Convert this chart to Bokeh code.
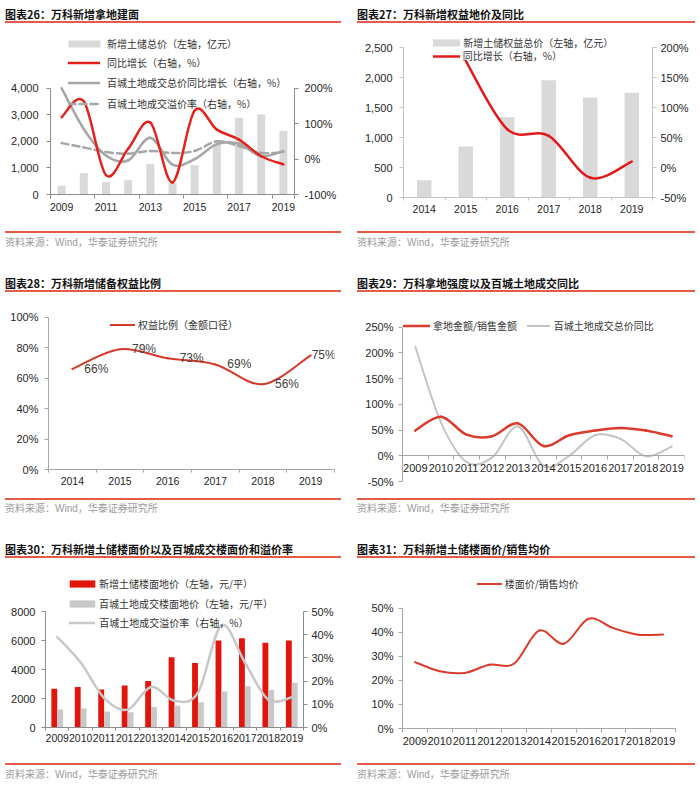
import numpy as np
from bokeh.plotting import figure
from bokeh.models import (Range1d, LinearAxis, FixedTicker, PrintfTickFormatter, NumeralTickFormatter,
                          Legend, LegendItem, ColumnDataSource, LabelSet, Div)
from bokeh.layouts import column, row
from bokeh.transform import dodge
from bokeh.embed import file_html
from bokeh.resources import INLINE
from bokeh.core.properties import value

# ---------------- data ----------------
years_26 = ["2009", "2010", "2011", "2012", "2013", "2014", "2015", "2016", "2017", "2018", "2019"]
land_total_26 = [330, 810, 475, 540, 1150, 440, 1100, 1900, 2890, 3010, 2390]
land_yoy_26 = [118, 163, -45, 29, 103, -66, 137, 83, 55, 8, -15]
city_total_yoy_26 = [200, 85, 10, -4, 60, -16, 0, 42, 43, 8, 23]
city_premium_26 = [45, 33, 20, 15, 23, 17, 23, 50, 37, 17, 20]

years_27 = ["2014", "2015", "2016", "2017", "2018", "2019"]
equity_total_27 = [290, 850, 1340, 1960, 1670, 1750]
equity_yoy_27 = [None, 178, 64, 53, -17, 10]

years_28 = ["2014", "2015", "2016", "2017", "2018", "2019"]
equity_ratio_28 = [66, 79, 73, 69, 56, 75]

years_29 = ["2009", "2010", "2011", "2012", "2013", "2014", "2015", "2016", "2017", "2018", "2019"]
land_to_sales_29 = [49, 76, 41, 38, 63, 19, 40, 49, 54, 49, 38]
city_total_yoy_29 = [212, 65, -12, -3, 57, -20, 0, 40, 33, -1, 18]

years_30 = ["2009", "2010", "2011", "2012", "2013", "2014", "2015", "2016", "2017", "2018", "2019"]
vanke_floor_price_30 = [2680, 2800, 2620, 2900, 3200, 4850, 4450, 6000, 6150, 5850, 6000]
city_floor_price_30 = [1250, 1320, 1100, 1050, 1420, 1500, 1750, 2480, 2850, 2580, 3080]
city_premium_30 = [39, 28, 12.7, 7.7, 17.5, 11.5, 15, 44, 28, 12, 13]

years_31 = ["2009", "2010", "2011", "2012", "2013", "2014", "2015", "2016", "2017", "2018", "2019"]
floor_to_sales_31 = [27.6, 23.8, 23.1, 26.5, 27, 40.7, 35.2, 45.6, 41.7, 39, 39.1]

titles = ["图表26：万科新增拿地建面", "图表27：万科新增权益地价及同比", "图表28：万科新增储备权益比例",
          "图表29：万科拿地强度以及百城土地成交同比", "图表30：万科新增土储楼面价以及百城成交楼面价和溢价率",
          "图表31：万科新增土储楼面价/销售均价"]
SOURCE = "资料来源：Wind，华泰证券研究所"

# ---------------- styles ----------------
PW = 350
SEP = "#e25b4b"
CJK = "Noto Sans CJK SC"
LAT = "Liberation Sans"


def header(text, h, pad, ml, w):
    inner = (f"<div style=\"width:{w}px;height:{h}px;margin-left:{ml}px;box-sizing:border-box;"
             f"border-bottom:2px solid {SEP};padding-top:{pad}px;font-family:'{CJK}',sans-serif;"
             f"font-weight:bold;font-size:11px;line-height:13px;color:#111;white-space:nowrap;\">{text}</div>")
    return Div(text=inner, width=PW, height=h, margin=0)


def footer(h, pad, ml, w):
    inner = (f"<div style=\"width:{w}px;height:{h}px;margin-left:{ml}px;box-sizing:border-box;"
             f"border-top:2px solid {SEP};padding-top:{pad}px;font-family:'{LAT}','{CJK}',sans-serif;"
             f"font-size:10px;line-height:12px;color:#9a9a9a;white-space:nowrap;overflow:hidden;\">{SOURCE}</div>")
    return Div(text=inner, width=PW, height=h, margin=0)


def fit(v1, px1, v2, px2, f_top, f_bot):
    k = (px2 - px1) / (v2 - v1)
    start = v1 + (f_bot - px1) / k
    end = v1 + (f_top - px1) / k
    return Range1d(start, end)


def make_fig(h, fl, fr, fb, xr, yr):
    p = figure(width=PW, height=h, x_range=xr, y_range=yr, output_backend="svg", toolbar_location=None,
               min_border_left=fl, min_border_right=PW - fr, min_border_top=0, min_border_bottom=h - fb,
               margin=0)
    p.outline_line_color = None
    p.grid.visible = False
    p.background_fill_color = "white"
    p.border_fill_color = "white"
    return p


def style_y(ax, color, ticks, fmt, standoff, bounds, size="11px"):
    ax.ticker = FixedTicker(ticks=ticks)
    ax.formatter = fmt
    ax.bounds = bounds
    ax.axis_line_color = color
    ax.major_tick_line_color = color
    ax.major_tick_out = 4
    ax.major_tick_in = 0
    ax.minor_tick_line_color = None
    ax.major_label_standoff = int(round(standoff))
    ax.major_label_text_font = LAT
    ax.major_label_text_font_size = size
    ax.major_label_text_color = "#262626"


def style_x(ax, color, labels, pos, minor, standoff, tick_out=4, size="10.5px"):
    ax.ticker = FixedTicker(ticks=pos, minor_ticks=minor)
    ax.major_label_overrides = {int(q): lab for q, lab in zip(pos, labels)}
    ax.axis_line_color = color
    ax.major_tick_line_color = None
    ax.major_tick_out = 0
    ax.major_tick_in = 0
    ax.minor_tick_line_color = color
    ax.minor_tick_out = int(round(tick_out))
    ax.minor_tick_in = 0
    ax.major_label_standoff = int(round(standoff))
    ax.major_label_text_font = LAT
    ax.major_label_text_font_size = size
    ax.major_label_text_color = "#262626"


def bez(p, xs, ys, color, width, dash="solid", rname="default"):
    pts = [(x, y) for x, y in zip(xs, ys) if y is not None]
    X = [q[0] for q in pts]
    Y = [q[1] for q in pts]
    n = len(pts)
    d = dict(x0=[], y0=[], x1=[], y1=[], cx0=[], cy0=[], cx1=[], cy1=[])
    for i in range(n - 1):
        a = max(i - 1, 0)
        b = min(i + 2, n - 1)
        d["x0"].append(X[i]); d["y0"].append(Y[i])
        d["x1"].append(X[i + 1]); d["y1"].append(Y[i + 1])
        d["cx0"].append(X[i] + (X[i + 1] - X[a]) / 6)
        d["cy0"].append(Y[i] + (Y[i + 1] - Y[a]) / 6)
        d["cx1"].append(X[i + 1] - (X[b] - X[i]) / 6)
        d["cy1"].append(Y[i + 1] - (Y[b] - Y[i]) / 6)
    return p.bezier(x0="x0", y0="y0", x1="x1", y1="y1", cx0="cx0", cy0="cy0", cx1="cx1", cy1="cy1",
                    source=ColumnDataSource(d), line_color=color, line_width=width, line_dash=dash,
                    line_cap="round", y_range_name=rname)


def leg(p, label, r, gx, cy, gw, gh, standoff, fl, fb, rowh=15):
    lg = Legend(items=[LegendItem(label=label, renderers=[r])],
                location=(gx - fl, fb - cy - rowh / 2), orientation="vertical",
                padding=0, margin=0, spacing=0, border_line_color=None, background_fill_alpha=0,
                glyph_width=int(round(gw)), glyph_height=int(round(gh)), label_height=int(round(rowh)),
                label_standoff=int(round(standoff)),
                label_text_font=CJK, label_text_font_size="10px", label_text_color="#333333")
    p.add_layout(lg)


idx11 = list(range(11))
idx6 = list(range(6))
minor11 = [i - 0.5 for i in range(12)]
minor6 = [i - 0.5 for i in range(7)]

# ---------------- chart 26 ----------------
FL, FR, FB = 50, 294, 171
p26 = make_fig(208, FL, FR, FB, Range1d(-0.5, 10.5), fit(0, FB, 4000, 64.7, 0, FB))
p26.extra_y_ranges = {"r": fit(-100, FB, 200, 64.7, 0, FB)}
p26.add_layout(LinearAxis(y_range_name="r"), "right")
ax_c = "#8c8c8c"
style_y(p26.yaxis[0], ax_c, [0, 1000, 2000, 3000, 4000], NumeralTickFormatter(format="0,0"), 7.5, (0, 4000))
style_y(p26.yaxis[1], ax_c, [-100, 0, 100, 200], PrintfTickFormatter(format="%d%%"), 6.5, (-100, 200))
style_x(p26.xaxis[0], ax_c, years_26[0::2], idx11[0::2], [-0.5, 1.5, 3.5, 5.5, 7.5, 9.5, 10.5], 4)
r_bar26 = p26.vbar(x=idx11, top=land_total_26, width=0.36, fill_color="#d9d9d9", line_color=None)
r_gray26 = bez(p26, idx11, city_total_yoy_26, "#a6a6a6", 2.5, rname="r")
r_dash26 = bez(p26, idx11, city_premium_26, "#a6a6a6", 2.5, dash="7 4", rname="r")
r_red26 = bez(p26, idx11, land_yoy_26, "#e3221c", 2.5, rname="r")
leg(p26, "新增土储总价（左轴，亿元）", r_bar26, 64, 20, 40, 9, 3, FL, FB)
leg(p26, "同比增长（右轴，%）", r_red26, 68, 39, 32, 15, 7, FL, FB)
leg(p26, "百城土地成交总价同比增长（右轴，%）", r_gray26, 68, 59, 32, 15, 7, FL, FB)
leg(p26, "百城土地成交溢价率（右轴，%）", r_dash26, 68, 80, 32, 15, 7, FL, FB)

# ---------------- chart 27 ----------------
FL, FR, FB = 53, 302, 174
p27 = make_fig(208, FL, FR, FB, Range1d(-0.5, 5.5), fit(0, FB, 2500, 24.3, 0, FB))
p27.extra_y_ranges = {"r": fit(-50, FB, 200, 24.3, 0, FB)}
p27.add_layout(LinearAxis(y_range_name="r"), "right")
ax_c = "#c3c3c3"
style_y(p27.yaxis[0], ax_c, [0, 500, 1000, 1500, 2000, 2500], NumeralTickFormatter(format="0,0"), 7, (0, 2500))
style_y(p27.yaxis[1], ax_c, [-50, 0, 50, 100, 150, 200], PrintfTickFormatter(format="%d%%"), 4.5, (-50, 200))
style_x(p27.xaxis[0], ax_c, years_27, idx6, minor6, 4, tick_out=3)
r_bar27 = p27.vbar(x=idx6, top=equity_total_27, width=0.35, fill_color="#d9d9d9", line_color=None)
r_red27 = bez(p27, idx6, equity_yoy_27, "#e31a1c", 2.5, rname="r")
leg(p27, "新增土储权益总价（左轴，亿元）", r_bar27, 79.3, 20, 34, 9.3, 0, FL, FB, rowh=13.5)
leg(p27, "同比增长（右轴，%）", r_red27, 82.7, 33.5, 27.3, 13.5, 2.7, FL, FB, rowh=13.5)

# ---------------- chart 28 ----------------
FL, FR, FB = 48, 334, 177
p28 = make_fig(206, FL, FR, FB, Range1d(-0.5, 5.5), fit(0, FB, 100, 24.7, 0, FB))
ax_c = "#a6a6a6"
style_y(p28.yaxis[0], ax_c, [0, 20, 40, 60, 80, 100], PrintfTickFormatter(format="%d%%"), 5.5, (0, 100))
style_x(p28.xaxis[0], ax_c, years_28, idx6, minor6, 3.5, tick_out=3)
r_red28 = bez(p28, idx6, equity_ratio_28, "#d6392b", 2)
label_dx_28 = [12, 12, 12, 12, 12, 1]
lab_src = ColumnDataSource(dict(x=idx6, y=equity_ratio_28, t=[f"{v}%" for v in equity_ratio_28],
                                dx=label_dx_28))
p28.add_layout(LabelSet(x="x", y="y", text="t", source=lab_src, x_offset="dx", text_baseline="middle",
                        text_align="left", text_font=value(LAT), text_font_size="12px", text_color="#404040"))
leg(p28, "权益比例（金额口径）", r_red28, 110, 32, 25, 15, 3.3, FL, FB)

# ---------------- chart 29 ----------------
FL, FR, FB = 52, 334, 189
p29 = make_fig(206, FL, FR, FB, Range1d(-0.5, 10.5), fit(-50, FB, 250, 34.7, 0, FB))
ax_c = "#a6a6a6"
style_y(p29.yaxis[0], ax_c, [-50, 0, 50, 100, 150, 200, 250], PrintfTickFormatter(format="%d%%"), 5, (-50, 250))
style_x(p29.xaxis[0], ax_c, years_29, idx11, minor11, 3.5, tick_out=3.5, size="11px")
p29.xaxis[0].fixed_location = 0
r_gray29 = bez(p29, idx11, city_total_yoy_29, "#c4c4c4", 2)
r_red29 = bez(p29, idx11, land_to_sales_29, "#dc3a2c", 2.5)
leg(p29, "拿地金额/销售金额", r_red29, 53, 33, 27, 15, 2.7, FL, FB)
leg(p29, "百城土地成交总价同比", r_gray29, 176.7, 33, 23.3, 15, 4, FL, FB)

# ---------------- chart 30 ----------------
FL, FR, FB = 45, 303, 169
p30 = make_fig(205, FL, FR, FB, Range1d(-0.5, 10.5), fit(0, FB, 8000, 53, 0, FB))
p30.extra_y_ranges = {"r": fit(0, FB, 50, 53, 0, FB)}
p30.add_layout(LinearAxis(y_range_name="r"), "right")
ax_c = "#8c8c8c"
style_y(p30.yaxis[0], ax_c, [0, 2000, 4000, 6000, 8000], NumeralTickFormatter(format="0"), 6.5, (0, 8000))
style_y(p30.yaxis[1], ax_c, [0, 10, 20, 30, 40, 50], PrintfTickFormatter(format="%d%%"), 4.5, (0, 50))
style_x(p30.xaxis[0], ax_c, years_30, idx11, minor11, 3, tick_out=3, size="10.5px")
src30 = ColumnDataSource(dict(x=idx11, a=vanke_floor_price_30, b=city_floor_price_30))
r_red30 = p30.vbar(x=dodge("x", -0.125), top="a", width=0.25, source=src30, fill_color="#e3140c", line_color=None)
r_gbar30 = p30.vbar(x=dodge("x", 0.125), top="b", width=0.25, source=src30, fill_color="#c8c8c8", line_color=None)
r_line30 = bez(p30, idx11, city_premium_30, "#c8c8c8", 2.5, rname="r")
leg(p30, "新增土储楼面地价（左轴，元/平）", r_red30, 66.1, 25.7, 32, 9, 1.1, FL, FB)
leg(p30, "百城土地成交楼面地价（左轴，元/平）", r_gbar30, 66.1, 45, 32, 9, 1.1, FL, FB)
leg(p30, "百城土地成交溢价率（右轴，%）", r_line30, 69.3, 64.3, 25.7, 15, 4.3, FL, FB)

# ---------------- chart 31 ----------------
FL, FR, FB = 52, 325, 170
p31 = make_fig(205, FL, FR, FB, Range1d(-0.5, 10.5), fit(0, FB, 50, 49.7, 0, FB))
ax_c = "#a6a6a6"
style_y(p31.yaxis[0], ax_c, [0, 10, 20, 30, 40, 50], PrintfTickFormatter(format="%d%%"), 5, (0, 50))
style_x(p31.xaxis[0], ax_c, years_31, idx11, minor11, 3.5, tick_out=3.5, size="11px")
r_red31 = bez(p31, idx11, floor_to_sales_31, "#d93b2d", 2)
leg(p31, "楼面价/销售均价", r_red31, 126.7, 25.3, 25, 15, 3.3, FL, FB)

# ---------------- layout ----------------
LW, RW = 336, 338
col26 = column(header(titles[0], 23, 7.5, 5, LW), p26, footer(39, 4, 5, LW), margin=0)
col27 = column(header(titles[1], 23, 7.5, 7, RW), p27, footer(39, 4, 7, RW), margin=0)
col28 = column(header(titles[2], 22, 6.8, 5, LW), p28, footer(38, 3, 5, LW), margin=0)
col29 = column(header(titles[3], 22, 6.8, 7, RW), p29, footer(38, 3, 7, RW), margin=0)
col30 = column(header(titles[4], 22, 6.5, 5, LW), p30, footer(23, 4, 5, LW), margin=0)
col31 = column(header(titles[5], 22, 6.5, 7, RW), p31, footer(23, 4, 7, RW), margin=0)
page = column(row(col26, col27, margin=0), row(col28, col29, margin=0), row(col30, col31, margin=0), margin=0)

open("out.html", "w").write(file_html(page, INLINE))
